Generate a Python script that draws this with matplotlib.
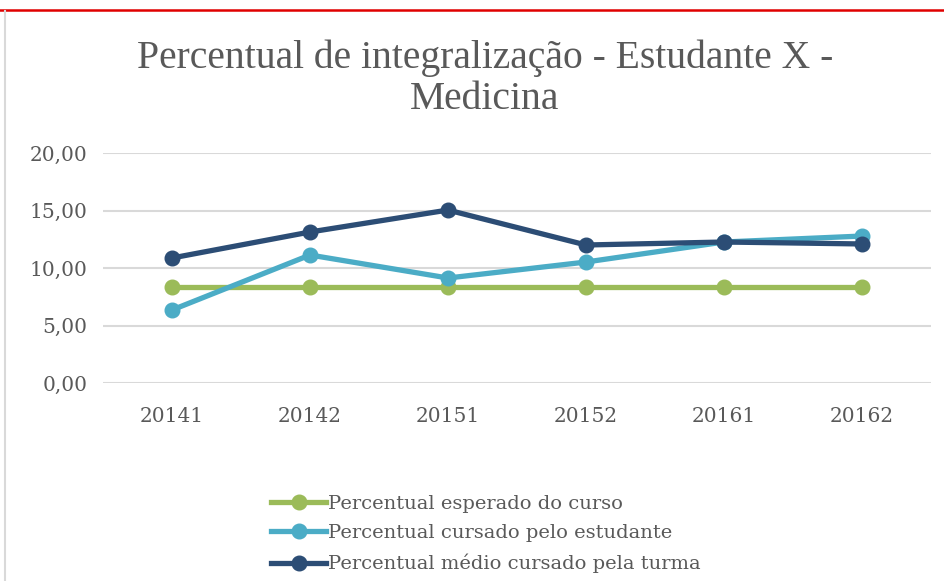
import matplotlib
matplotlib.use("Agg")
import matplotlib.pyplot as plt
from matplotlib.lines import Line2D

categories = ["20141", "20142", "20151", "20152", "20161", "20162"]
esperado = [8.33, 8.33, 8.33, 8.33, 8.33, 8.33]
estudante = [6.35, 11.13, 9.13, 10.52, 12.26, 12.78]
turma = [10.87, 13.13, 15.04, 12.00, 12.26, 12.09]
yticks = [0, 5, 10, 15, 20]
ytick_labels = ["0,00", "5,00", "10,00", "15,00", "20,00"]
labels = ["Percentual esperado do curso",
          "Percentual cursado pelo estudante",
          "Percentual médio cursado pela turma"]

plt.rcParams['font.family'] = ['DejaVu Serif']
W, H = 945, 581
fig = plt.figure(figsize=(W/100, H/100), dpi=100)
ax = fig.add_axes([103/W, 1-383/H, (931-103)/W, (383-153)/H])

txt = "#595959"
colors = ["#9BBB59", "#4BACC6", "#2C4D75"]
x = list(range(len(categories)))
for vals, c, lab in zip([esperado, estudante, turma], colors, labels):
    ax.plot(x, vals, color=c, lw=3.8, marker='o', ms=10.5, label=lab,
            solid_capstyle='round', zorder=3)

ax.set_xlim(-0.5, len(categories)-0.5)
ax.set_ylim(0, 20)
ax.set_yticks(yticks)
ax.set_yticklabels(ytick_labels)
ax.set_xticks(x)
ax.set_xticklabels(categories)
ax.tick_params(length=0, labelsize=14.5, colors=txt)
ax.tick_params(axis='x', pad=17)
ax.tick_params(axis='y', pad=11)
ax.grid(axis='y', color="#D9D9D9", lw=1.5)
ax.set_axisbelow(True)
for s in ax.spines.values():
    s.set_visible(False)

fig.text(485/W, 1-79/H, "Percentual de integralização - Estudante X -\nMedicina",
         ha='center', va='center', fontsize=28.5, color=txt, linespacing=1.15,
         family=['Liberation Serif'])

handles = [Line2D([0], [0], color=c, lw=3.8, marker='o', ms=10.5) for c in colors]
fig.legend(handles, labels, loc='center', bbox_to_anchor=(486/W, 1-534/H),
           frameon=False, fontsize=14, labelcolor=txt, handlelength=2.8,
           handletextpad=0.1, labelspacing=0.6)

fig.add_artist(Line2D([0, 1], [1-9.5/H, 1-9.5/H], color="#E00000", lw=1.8, transform=fig.transFigure))
fig.add_artist(Line2D([5.5/W, 5.5/W], [0, 1-11/H], color="#D9D9D9", lw=1.5, transform=fig.transFigure))

fig.savefig("out.png", dpi=100)
